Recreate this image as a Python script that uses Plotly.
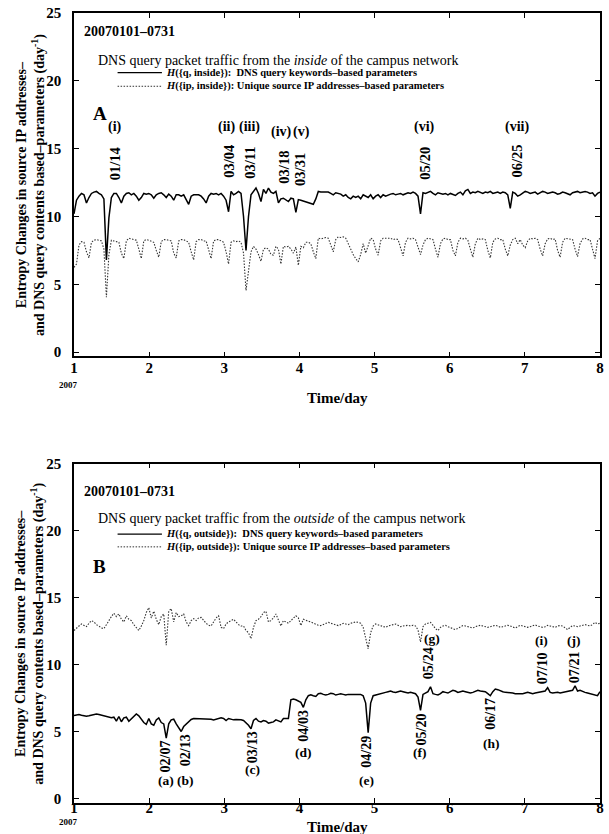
import plotly.graph_objects as go

# ---------------- data (daily values, 2007-01-01 .. 2007-07-31) ----------------
days = list(range(1, 213))

q_inside = [
    10.2, 11.2, 11.5, 11.7, 11.6, 11.0, 11.4,
    11.7, 11.8, 11.85, 11.7, 11.6, 11.3, 6.8,
    9.9, 11.4, 11.7, 11.7, 11.4, 11.0, 11.5,
    11.7, 11.75, 11.6, 11.7, 11.5, 11.2, 11.4,
    11.7, 11.65, 11.7, 11.6, 11.35, 11.6, 11.7,
    11.75, 11.6, 11.4, 11.65, 11.5, 11.2, 11.6,
    11.6, 11.5, 11.6, 11.3, 10.9, 11.5, 11.6,
    11.6, 11.6, 11.5, 11.3, 11.0, 11.5, 11.7,
    11.65, 11.7, 11.6, 11.7, 11.5, 11.2, 10.35,
    11.85, 11.6, 11.7, 11.85, 11.7, 10.0, 7.5,
    10.0, 11.6, 11.85, 12.1, 11.7, 11.1, 12.0,
    11.7, 12.1, 11.8, 11.7, 11.85, 11.0, 11.3,
    11.35, 11.2, 11.1, 11.35, 11.3, 10.3, 11.25,
    11.2, 11.15, 11.1, 11.0, 10.95, 10.9, 11.3,
    11.85, 11.8, 11.8, 11.75, 11.8, 11.7, 11.6,
    11.75, 11.7, 11.65, 11.5, 11.6, 11.4, 11.3,
    11.5, 11.4, 11.5, 11.3, 11.6, 11.5, 11.4,
    11.6, 11.3, 11.5, 11.6, 11.4, 11.6, 11.5,
    11.6, 11.65, 11.7, 11.6, 11.65, 11.7, 11.6,
    11.7, 11.75, 11.7, 11.8, 11.7, 11.5, 10.2,
    11.75, 11.7, 11.8, 11.85, 11.7, 11.6, 11.75,
    11.7, 11.65, 11.7, 11.6, 11.7, 11.6, 11.55,
    11.7, 11.8, 11.6, 11.9, 12.0, 11.7, 11.8,
    11.75, 11.85, 11.8, 11.7, 11.8, 11.75, 11.85,
    11.7, 11.75, 11.8, 11.7, 11.8, 11.75, 11.6,
    10.6, 11.8, 11.7, 11.5, 11.6, 11.75, 11.85,
    11.8, 11.7, 11.75, 11.8, 11.65, 11.75, 11.85,
    11.8, 11.7, 11.75, 11.8, 11.75, 11.65, 11.7,
    11.8, 11.75, 11.7, 11.6, 11.75, 11.8, 11.85,
    11.75, 11.8, 11.85, 11.8, 11.7, 11.75, 11.5,
    11.7, 11.8,
]

ip_inside = [
    6.25, 6.5, 7.9, 8.15, 8.1, 7.4, 6.95,
    8.1, 8.25, 8.3, 8.25, 8.2, 7.6, 4.05,
    7.2, 8.25, 8.2, 8.15, 8.1, 7.3, 6.9,
    8.2, 8.4, 8.35, 8.3, 8.25, 7.6, 6.9,
    8.2, 8.3, 8.25, 8.2, 8.1, 7.5, 7.0,
    8.15, 8.3, 8.3, 8.25, 8.2, 7.3, 6.95,
    8.2, 8.3, 8.3, 8.2, 8.1, 7.4, 6.8,
    8.15, 8.3, 8.3, 8.2, 8.2, 7.5, 6.9,
    8.2, 8.3, 8.3, 8.2, 8.1, 7.4, 6.5,
    8.1, 8.2, 8.15, 8.2, 8.1, 7.3, 4.55,
    6.2, 7.4, 7.8, 7.6, 7.2, 6.7, 7.6,
    7.7, 7.6, 7.2, 7.15, 7.8, 7.6, 6.5,
    7.8, 7.75, 7.8, 7.6, 7.3, 7.75, 6.4,
    7.8, 7.7, 8.1, 8.1, 8.0, 7.4, 6.9,
    8.4, 8.35, 8.4, 8.45, 8.4, 7.9, 7.4,
    8.3, 8.5, 8.45, 8.5, 8.4, 8.0, 7.5,
    7.2, 6.9, 6.66, 7.2, 8.0, 7.3, 7.8,
    8.4, 8.3, 7.6, 7.15, 8.2, 8.4, 8.4,
    8.35, 8.4, 8.3, 8.35, 8.3, 7.6, 7.1,
    8.1, 8.4, 8.35, 8.4, 8.3, 7.7, 7.2,
    7.9, 8.3, 8.4, 8.35, 8.3, 7.6, 7.0,
    8.0, 8.35, 8.4, 8.3, 8.3, 7.5, 7.1,
    8.1, 8.4, 8.35, 8.4, 8.25, 7.6, 7.0,
    8.0, 8.4, 8.3, 8.35, 8.3, 7.5, 6.95,
    8.1, 8.35, 8.4, 8.3, 8.3, 7.6, 7.1,
    7.9, 8.3, 8.4, 8.0, 8.3, 7.9, 7.7,
    8.2, 8.4, 8.35, 8.4, 8.3, 7.6, 7.1,
    8.0, 8.35, 8.4, 8.3, 8.35, 7.5, 7.0,
    8.1, 8.4, 8.35, 8.3, 8.3, 7.6, 7.05,
    8.0, 8.35, 8.4, 8.3, 8.3, 7.5, 6.9,
    8.2, 8.4,
]

q_outside = [
    6.22, 6.25, 6.3, 6.25, 6.2, 6.17, 6.2,
    6.25, 6.3, 6.34, 6.3, 6.25, 6.2, 6.17,
    6.1, 6.05, 6.1, 5.8, 6.15, 5.76, 6.05,
    6.1, 5.8, 6.0, 6.2, 6.34, 6.2, 5.9,
    5.7, 5.56, 6.0, 5.6, 5.5, 5.9, 6.05,
    5.7, 5.6, 4.54, 5.6, 5.9, 5.95, 5.6,
    5.3, 5.03, 5.4, 5.6, 5.8, 5.93, 6.0,
    6.0, 6.0, 5.95, 6.0, 5.95, 5.95, 5.95,
    5.9, 5.95, 6.0, 6.05, 6.0, 5.85, 6.0,
    5.95, 5.9, 5.93, 5.93, 5.9, 5.85, 5.7,
    5.5, 5.24, 5.85, 6.0, 5.8, 5.75, 5.85,
    5.8, 5.65, 5.7, 5.75, 5.9, 5.8, 5.75,
    6.0, 6.0, 6.0, 7.4, 7.45, 7.4, 7.3,
    7.2, 6.83, 7.4, 7.7, 7.76, 7.7, 7.65,
    7.85, 7.88, 7.8, 7.76, 7.8, 7.88, 7.85,
    7.75, 7.8, 7.85, 7.8, 7.75, 7.8, 7.8,
    7.75, 7.78, 7.8, 7.8, 7.7, 7.15, 4.95,
    7.15, 7.7, 7.76, 7.8, 7.85, 7.9, 7.95,
    8.0, 8.05, 7.98, 7.95, 8.0, 8.05, 8.0,
    7.95, 7.9, 7.95, 7.9, 7.85, 7.6, 6.6,
    7.8, 7.9, 8.0, 8.37, 7.85, 7.8, 7.76,
    7.85, 8.0, 7.95, 7.9, 8.0, 8.1, 8.05,
    7.95, 8.0, 8.05, 8.0, 7.95, 7.9, 7.95,
    8.05, 8.1, 8.05, 8.0, 8.0, 7.85, 7.7,
    8.0, 8.2, 8.15, 8.05, 8.0, 7.95, 7.95,
    7.9, 7.9, 7.85, 7.85, 7.8, 7.85, 7.9,
    7.95, 7.9, 7.85, 7.9, 7.95, 7.95, 8.0,
    8.05, 8.3, 7.95, 7.9, 7.95, 7.95, 7.9,
    7.95, 8.0, 8.0, 8.05, 8.1, 8.44, 8.05,
    8.1, 8.0, 7.95, 7.9, 7.85, 7.8, 7.76,
    7.7, 8.0,
]

ip_outside = [
    12.56, 12.7, 12.9, 13.05, 12.95, 12.85, 13.1,
    13.3, 13.2, 13.0, 12.9, 12.75, 12.7, 13.0,
    13.4, 13.6, 13.85, 13.6, 13.8, 13.4, 13.2,
    13.66, 13.4, 13.3, 13.0, 12.8, 12.56, 12.9,
    13.3, 13.9, 14.27, 13.5, 14.0, 13.4, 13.0,
    13.6, 13.8, 11.46, 14.0, 14.2, 13.2, 13.9,
    13.6, 13.66, 13.8, 13.2, 12.93, 13.3, 13.45,
    13.3, 13.5, 13.54, 13.3, 13.1, 12.95, 12.9,
    13.2, 13.5, 13.66, 12.8, 12.7, 13.05, 13.2,
    13.3, 13.4, 13.2, 13.0, 12.9, 12.9, 12.56,
    12.4, 11.95, 12.8, 13.3, 13.4, 13.6, 13.9,
    14.0, 13.2, 13.3, 13.5, 13.8, 13.4, 12.9,
    13.3, 13.2, 13.1, 13.3, 13.5, 13.66, 13.5,
    12.93, 13.4, 13.3, 13.25, 13.2, 13.1, 13.0,
    12.95, 12.93, 13.0, 13.1, 13.17, 13.1, 13.05,
    12.95, 12.93, 13.0, 13.1, 13.05, 13.0, 13.1,
    13.17, 13.2, 13.17, 13.1, 12.8, 12.0, 11.2,
    12.4, 12.9, 13.05, 13.0, 12.93, 12.85, 12.8,
    12.9, 12.93, 13.0, 13.05, 12.95, 12.85, 12.9,
    12.93, 12.95, 12.9, 12.95, 12.9, 12.6, 11.7,
    12.85, 13.05, 13.1, 13.17, 12.95, 12.7, 12.56,
    12.8, 12.9, 12.95, 12.85, 12.8, 12.7, 12.63,
    12.75, 12.85, 12.93, 12.9, 12.85, 12.8, 12.75,
    12.85, 12.93, 12.95, 12.9, 12.85, 12.8, 12.85,
    12.9, 12.95, 12.9, 12.8, 12.85, 12.93, 12.95,
    12.9, 12.8, 12.75, 12.85, 12.95, 12.9, 12.85,
    12.8, 12.85, 12.93, 12.98, 12.9, 12.85, 12.8,
    12.85, 12.95, 12.9, 12.85, 12.8, 12.9, 12.93,
    12.9, 12.75, 12.63, 12.8, 12.93, 12.9, 12.85,
    12.9, 12.95, 13.0, 12.95, 12.9, 13.0, 13.17,
    13.05, 13.1,
]

x_ticks = [1, 2, 3, 4, 5, 6, 7, 8]
y_ticks = [0, 5, 10, 15, 20, 25]

# event labels: (label, x, y, date, x, y)  -- x in Time/day units
top_events = [
    ("(i)", 1.55, 16.6, "01/14", 1.54, 13.9),
    ("(ii)", 3.03, 16.6, "03/04", 3.06, 14.1),
    ("(iii)", 3.34, 16.6, "03/11", 3.34, 13.95),
    ("(iv)", 3.76, 16.2, "03/18", 3.79, 13.65),
    ("(v)", 4.03, 16.2, "03/31", 4.01, 13.45),
    ("(vi)", 5.66, 16.6, "05/20", 5.66, 13.9),
    ("(vii)", 6.89, 16.6, "06/25", 6.89, 14.1),
]
bottom_events = [
    ("(a)", 2.22, 1.38, "02/07", 2.22, 3.15),
    ("(b)", 2.48, 1.38, "02/13", 2.48, 3.65),
    ("(c)", 3.38, 2.17, "03/13", 3.38, 3.85),
    ("(d)", 4.05, 3.48, "04/03", 4.06, 5.45),
    ("(e)", 4.89, 1.38, "04/29", 4.89, 3.55),
    ("(f)", 5.6, 3.48, "05/20", 5.62, 5.2),
    ("(g)", 5.76, 11.95, "05/24", 5.72, 10.1),
    ("(h)", 6.56, 4.15, "06/17", 6.55, 6.35),
    ("(i)", 7.22, 11.8, "07/10", 7.23, 9.75),
    ("(j)", 7.65, 11.85, "07/21", 7.66, 9.85),
]

# ---------------- figure ----------------
FONT = "Liberation Serif"
t = [1 + (d - 1) * 7 / 211 for d in days]

DOT = "1.5px,1.5px"
fig = go.Figure()
fig.add_trace(go.Scatter(x=t, y=q_inside, mode="lines", xaxis="x", yaxis="y",
                         line=dict(color="black", width=1.5)))
fig.add_trace(go.Scatter(x=t, y=ip_inside, mode="lines", xaxis="x", yaxis="y",
                         line=dict(color="#333", width=1.1, dash=DOT)))
fig.add_trace(go.Scatter(x=t, y=q_outside, mode="lines", xaxis="x2", yaxis="y2",
                         line=dict(color="black", width=1.5)))
fig.add_trace(go.Scatter(x=t, y=ip_outside, mode="lines", xaxis="x2", yaxis="y2",
                         line=dict(color="#333", width=1.1, dash=DOT)))

W, H = 609, 834
L, R, T, B = 74, 5, 9, 31
ph = H - T - B
pw = W - L - R
TOP_TOP, TOP_BOT = 9, 354
BOT_TOP, BOT_BOT = 462, 803
top_dom = [(H - B - TOP_BOT) / ph, 1]
bot_dom = [0, (H - B - BOT_TOP) / ph]


def axis_style(standoff):
    return dict(showline=True, linecolor="black", linewidth=1.5, mirror="ticks",
                ticks="inside", ticklen=5, tickwidth=1.2, tickcolor="black",
                showgrid=False, zeroline=False, ticklabeloverflow="allow",
                ticklabelstandoff=standoff,
                tickfont=dict(family=FONT, size=15, color="black", weight="bold"))


fig.update_layout(
    width=W, height=H,
    margin=dict(l=L, r=R, t=T, b=B),
    paper_bgcolor="white", plot_bgcolor="white",
    showlegend=False,
    xaxis=dict(domain=[0, 1], anchor="y", range=[1, 8], tickvals=x_ticks, **axis_style(-3)),
    yaxis=dict(domain=top_dom, anchor="x", range=[-0.3, 25], tickvals=y_ticks, **axis_style(8)),
    xaxis2=dict(domain=[0, 1], anchor="y2", range=[1, 8], tickvals=x_ticks, **axis_style(-10)),
    yaxis2=dict(domain=bot_dom, anchor="x2", range=[-0.3, 25], tickvals=y_ticks, **axis_style(8)),
)

ann = []


def txt(text, x, y, xref, yref, size, bold=True, angle=0, xanchor="center", yanchor="middle"):
    ann.append(dict(text=text, x=x, y=y, xref=xref, yref=yref, showarrow=False,
                    textangle=angle, xanchor=xanchor, yanchor=yanchor,
                    font=dict(family=FONT, size=size, color="black",
                              weight="bold" if bold else "normal")))


def py(pix):
    return (H - B - pix) / ph


def px(pix):
    return (pix - L) / pw


panels = [
    ("x", "y", "inside", "A", top_events, 23.6, 21.5, 20.6, 19.6, 17.6,
     (TOP_TOP + TOP_BOT) / 2, 396, 383, 14.5, 14),
    ("x2", "y2", "outside", "B", bottom_events, 22.9, 20.95, 19.75, 18.8, 17.35,
     (BOT_TOP + BOT_BOT) / 2, 827, 822, 14, 13.5),
]
for (xr, yr, where, letter, events, y_date, y_title, y_l1, y_l2, y_letter,
     ymid, ytitle, y2007, fdate, flab) in panels:
    txt("20070101\u20130731", 1.105, y_date, xr, yr, 14, xanchor="left")
    txt("DNS query packet traffic from the <i>%s</i> of the campus network" % where,
        1.29, y_title, xr, yr, 14, bold=False, xanchor="left")
    fig.add_shape(type="line", xref=xr, yref=yr, x0=1.58, x1=2.17, y0=y_l1, y1=y_l1,
                  line=dict(color="black", width=1.2))
    fig.add_shape(type="line", xref=xr, yref=yr, x0=1.58, x1=2.17, y0=y_l2, y1=y_l2,
                  line=dict(color="#333", width=1.0, dash=DOT))
    txt("<i>H</i>({q, %s}):  DNS query keywords\u2013based parameters" % where,
        2.2, y_l1, xr, yr, 10.5, xanchor="left")
    txt("<i>H</i>({ip, %s}): Unique source IP addresses\u2013based parameters" % where,
        2.2, y_l2, xr, yr, 10.5, xanchor="left")
    txt(letter, 1.34, y_letter, xr, yr, 19)
    for lab, lx, ly, date, dx, dy in events:
        txt(lab, lx, ly, xr, yr, flab)
        txt(date, dx, dy, xr, yr, fdate, angle=-90)
    # y-axis title (two lines)
    txt("Entropy Changes in source IP addresses\u2013<br>"
        "and DNS query contents based\u2013parameters (day<sup>-1</sup>)",
        px(30), py(ymid), "paper", "paper", 14, angle=-90)
    txt("Time/day", px(340), py(ytitle), "paper", "paper", 15)
    txt("2007", px(68), py(y2007), "paper", "paper", 9)

fig.update_layout(annotations=ann)
fig.write_html("out.html", config={"displayModeBar": False},
               post_script="document.body.style.margin='0';")
